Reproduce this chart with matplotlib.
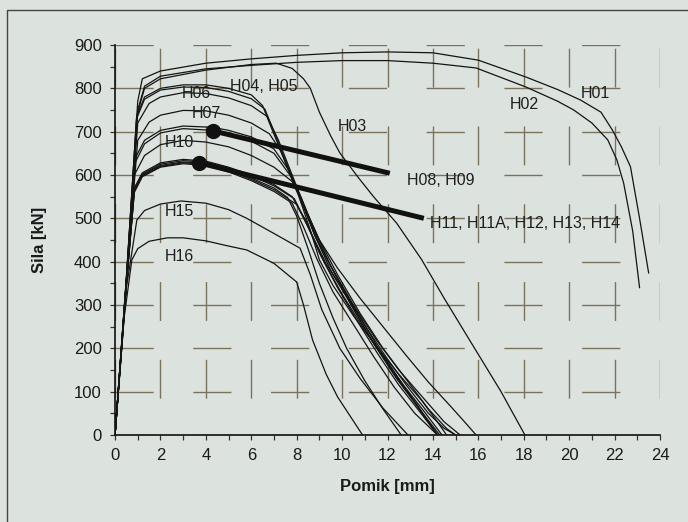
import matplotlib
matplotlib.use("Agg")
import matplotlib.pyplot as plt
from matplotlib.lines import Line2D
from matplotlib.ticker import MultipleLocator

plt.rcParams['font.family'] = ['Liberation Sans', 'DejaVu Sans']

# force-displacement curves (x: Pomik [mm], y: Sila [kN])
h01_x = [0, 0.5, 1.0, 1.2, 2, 4, 6, 8, 10, 12, 14, 16, 18.1, 19.5, 20.5, 21.4, 21.9, 22.3, 22.7, 23.1, 23.5]
h01_y = [0, 365, 770, 822, 840, 858, 868, 876, 882, 884, 882, 865, 826, 797, 773, 745, 704, 665, 619, 500, 374]
h02_x = [0, 0.5, 1.0, 1.3, 2, 4, 6, 8, 10, 12, 14, 15.9, 18.1, 19.5, 20.2, 21.0, 21.7, 22.1, 22.4, 22.8, 23.1]
h02_y = [0, 360, 750, 805, 828, 845, 853, 860, 864, 864, 858, 847, 803, 770, 750, 720, 681, 635, 581, 470, 340]
h03_x = [0, 0.5, 1.0, 1.3, 2, 4, 6, 7.1, 7.8, 8.3, 8.6, 9.0, 9.5, 9.9, 10.7, 11.4, 12.4, 13.5, 14.5, 15.8, 17.0, 18.05]
h03_y = [0, 360, 745, 800, 822, 842, 855, 858, 846, 822, 800, 745, 690, 651, 595, 549, 489, 405, 315, 203, 100, 0]
h04_x = [0, 0.5, 0.95, 1.3, 2, 3, 4, 5, 6, 6.5, 6.8, 7.4, 8.0, 8.6, 9.0, 9.6, 10.5, 11.5, 12.5, 13.5, 14.2, 14.6]
h04_y = [0, 360, 735, 780, 800, 808, 808, 800, 785, 760, 720, 642, 565, 473, 404, 345, 275, 205, 140, 80, 30, 0]
h05_x = [0, 0.5, 0.95, 1.3, 2, 3, 4, 5, 6, 6.6, 7.0, 7.6, 8.2, 8.8, 9.5, 10.5, 11.5, 12.5, 13.5, 14.5, 15.2]
h05_y = [0, 358, 730, 775, 796, 803, 802, 793, 776, 752, 700, 620, 540, 460, 390, 300, 220, 150, 90, 30, 0]
h06_x = [0, 0.5, 1.0, 1.5, 2, 3, 4, 5, 6, 6.7, 7.2, 7.8, 8.4, 9.0, 9.8, 10.8, 11.8, 12.8, 13.8, 14.6, 15.0]
h06_y = [0, 356, 720, 765, 780, 790, 788, 778, 760, 735, 680, 600, 520, 450, 370, 280, 200, 130, 60, 15, 0]
h07_x = [0, 0.5, 1.0, 1.5, 2, 3, 4, 5, 6, 6.8, 7.3, 7.8, 8.4, 9.0, 9.8, 10.7, 11.6, 12.5, 13.4, 14.2]
h07_y = [0, 355, 680, 722, 738, 749, 748, 738, 720, 695, 655, 595, 515, 440, 360, 280, 200, 130, 60, 0]
h08_x = [0, 0.5, 0.9, 1.3, 2, 3, 4.3, 5, 6, 7.0, 7.6, 8.2, 8.8, 9.5, 10.4, 11.4, 12.4, 13.4, 14.3]
h08_y = [0, 355, 640, 680, 703, 713, 710, 703, 688, 660, 615, 548, 470, 390, 300, 210, 130, 60, 0]
h09_x = [0, 0.5, 0.9, 1.3, 2, 3, 4.3, 5, 6, 7.0, 7.7, 8.3, 9.0, 9.8, 10.8, 11.8, 12.8, 13.8, 14.8, 15.5, 15.9]
h09_y = [0, 352, 630, 672, 697, 707, 703, 695, 678, 650, 600, 530, 450, 385, 315, 250, 185, 122, 65, 24, 0]
h10_x = [0, 0.5, 0.85, 1.3, 2, 3, 4, 5, 6, 7, 7.8, 8.3, 8.8, 9.5, 10.4, 11.3, 12.3, 13.3, 14.2]
h10_y = [0, 352, 600, 645, 670, 680, 676, 665, 645, 618, 585, 530, 460, 380, 300, 220, 140, 70, 0]
h11_x = [0, 0.5, 0.85, 1.2, 2, 3, 4, 5, 6, 7, 7.8, 8.4, 9.0, 9.8, 10.7, 11.6, 12.5, 13.4, 14.2]
h11_y = [0, 350, 570, 605, 628, 636, 632, 618, 600, 578, 550, 495, 420, 340, 260, 185, 115, 55, 0]
h11a_x = [0, 0.5, 0.85, 1.2, 2, 3, 4, 5, 6, 7, 7.9, 8.5, 9.2, 10.0, 10.9, 11.8, 12.7, 13.6, 14.4]
h11a_y = [0, 350, 568, 602, 625, 633, 630, 616, 598, 575, 545, 480, 400, 325, 250, 180, 115, 55, 0]
h12_x = [0, 0.5, 0.85, 1.2, 2, 3, 4, 5, 6, 7, 7.6, 8.0, 8.5, 9.0, 9.6, 10.2, 11.0, 11.8, 12.6]
h12_y = [0, 348, 565, 600, 622, 630, 627, 612, 593, 570, 548, 505, 430, 350, 270, 200, 125, 60, 0]
h13_x = [0, 0.5, 0.85, 1.2, 2, 3, 4, 5, 6, 7, 8.0, 8.6, 9.3, 10.2, 11.1, 12.0, 12.9, 13.8, 14.5, 15.0]
h13_y = [0, 348, 562, 598, 620, 628, 625, 610, 590, 566, 532, 470, 395, 320, 245, 175, 110, 50, 15, 0]
h14_x = [0, 0.5, 0.85, 1.2, 2, 3, 4, 5, 6, 7, 7.8, 8.3, 8.9, 9.6, 10.5, 11.4, 12.3, 13.2, 14.2]
h14_y = [0, 346, 560, 596, 618, 626, 622, 607, 587, 562, 535, 480, 405, 330, 255, 180, 110, 50, 0]
h15_x = [0, 0.5, 0.96, 1.3, 2, 2.9, 4, 5, 5.8, 7, 8.15, 8.6, 9.1, 9.9, 10.8, 11.8, 12.9]
h15_y = [0, 340, 496, 518, 533, 540, 535, 520, 500, 465, 431, 370, 290, 200, 130, 62, 0]
h16_x = [0, 0.4, 0.74, 1.0, 1.5, 2.3, 3, 4, 5, 5.8, 7, 8.0, 8.3, 8.7, 9.3, 9.8, 10.4, 10.9]
h16_y = [0, 270, 404, 430, 447, 455, 455, 448, 436, 427, 396, 353, 300, 219, 140, 88, 40, 0]

curves = [(h01_x, h01_y), (h02_x, h02_y), (h03_x, h03_y), (h04_x, h04_y),
          (h05_x, h05_y), (h06_x, h06_y), (h07_x, h07_y), (h08_x, h08_y),
          (h09_x, h09_y), (h10_x, h10_y), (h11_x, h11_y), (h11a_x, h11a_y),
          (h12_x, h12_y), (h13_x, h13_y), (h14_x, h14_y), (h15_x, h15_y),
          (h16_x, h16_y)]

# labels placed next to curves
label_text = ["H01", "H02", "H03", "H04, H05", "H06", "H07", "H10", "H15", "H16",
              "H08, H09", "H11, H11A, H12, H13, H14"]
label_x = [20.5, 17.4, 9.8, 5.05, 2.95, 3.4, 2.2, 2.2, 2.2, 12.85, 13.85]
label_y = [789, 762, 711, 805, 789, 741, 676, 515, 413, 588, 489]

# thick pointers for the grouped specimens
pointer_x0 = [4.3, 3.7]
pointer_y0 = [702, 628]
pointer_x1 = [12.1, 13.6]
pointer_y1 = [604, 500]

bg = '#dce3df'
fig = plt.figure(figsize=(6.88, 5.22), dpi=100, facecolor=bg)
ax = fig.add_axes([0.1672, 0.1667, 0.7921, 0.7471])
ax.set_facecolor(bg)

for xs, ys in curves:
    ax.plot(xs, ys, color='#141414', lw=0.9, zorder=3)

for i in range(len(pointer_x0)):
    ax.plot([pointer_x0[i], pointer_x1[i]], [pointer_y0[i], pointer_y1[i]],
            color='#111111', lw=3.6, solid_capstyle='butt', zorder=4)
    ax.plot(pointer_x0[i], pointer_y0[i], 'o', color='#111111', ms=10, zorder=5)

for t, x, y in zip(label_text, label_x, label_y):
    ax.text(x, y, t, fontsize=11.5, color='#1e1e1e', ha='left', va='center', zorder=6)

ax.set_xlim(0, 24)
ax.set_ylim(0, 900)
ax.xaxis.set_major_locator(MultipleLocator(2))
ax.xaxis.set_minor_locator(MultipleLocator(1))
ax.yaxis.set_major_locator(MultipleLocator(100))
ax.yaxis.set_minor_locator(MultipleLocator(50))

for s in ['top', 'right']:
    ax.spines[s].set_visible(False)
for s in ['left', 'bottom']:
    ax.spines[s].set_linewidth(1.2)
    ax.spines[s].set_color('#111111')

ax.tick_params(which='both', direction='out', length=3.5, width=0.9, color='#333333')
ax.tick_params(axis='both', labelsize=12, labelcolor='#1a1a1a', pad=6)

# dashed "cross" grid like the original
ax.set_axisbelow(True)
ax.xaxis.grid(True, which='major', color='#7a725a', lw=1.0, linestyle=(29.5, (28, 28)))
ax.yaxis.grid(True, which='major', color='#7a725a', lw=1.0, linestyle=(0, (27.5, 28.5)))

ax.set_xlabel('Pomik [mm]', fontsize=12, fontweight='bold', color='#1a1a1a')
ax.set_ylabel('Sila [kN]', fontsize=12, fontweight='bold', color='#1a1a1a')
ax.xaxis.set_label_coords(0.5, -0.112)
ax.yaxis.set_label_coords(-0.125, 0.5)

# outer frame of the scanned figure
fig.add_artist(Line2D([0.0102, 0.0102, 1.0], [0.0, 0.981, 0.981],
                      transform=fig.transFigure, color='#444444', lw=1.0))

fig.savefig('out.png', dpi=100, facecolor=bg)
